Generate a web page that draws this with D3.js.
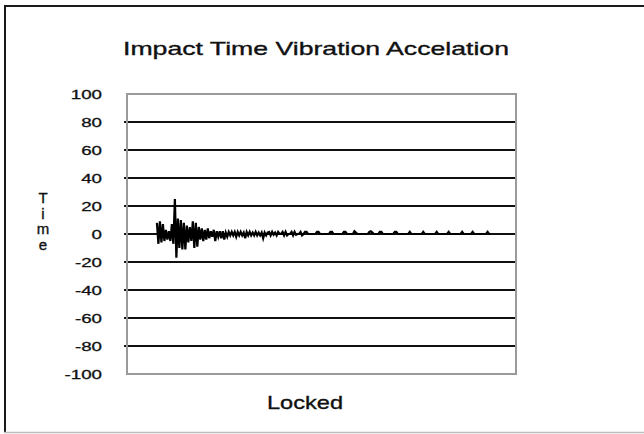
<!DOCTYPE html>
<html>
<head>
<meta charset="utf-8">
<script src="https://cdn.jsdelivr.net/npm/d3@7"></script>
<style>
  body { margin: 0; background: #fff; }
  text { font-family: "Liberation Sans", Arial, sans-serif; fill: #111; }
</style>
</head>
<body>
<div id="chart"></div>
<script>
// chart texts
var title = "Impact Time Vibration Accelation";
var xTitle = "Locked";
var yTitle = ["T", "i", "m", "e"];
var yTicks = [100, 80, 60, 40, 20, 0, -20, -40, -60, -80, -100];
var yTickLabels = ["100", "80", "60", "40", "20", "0", "-20", "-40", "-60", "-80", "-100"];

// sample number of the first reading, and length of the time axis (samples)
var firstSample = 20;
var sampleCount = 260;

// acceleration readings, one per sample
var accel = [
  8, -7, 9, -6, 7, -5, 3, -4, 2, -5,
  7, -7, 25, -17, 11, -10, 10, -11, 8, -11,
  6, -6, 5, -5, 9, -10, 8, -9, 5, -4,
  4, -5, 3, -4, 4, -3, 2, -2, 3, -5,
  2, -2, 2, -3, 2, -4, 1, -2,
  1.5, -1, 1.5, -1, 1.5, -2, 1.5, -1, 1.5, -1,
  1, -3, 1.5, -1, 1.5, -1, 1, -1, 1.5, -1,
  1, -1, 1, -3, 1, -1, 1,
  1.5, -1, 1.5, -0.5, 1, -1, 1.5, 0, 0, 1.5,
  -1, 1.5, -1, 0, 0, 1.5, -1, 1.5, -0.5, 0,
  0, 1.5,
  -1, 0, 1.5, 1.5, 0, 0, 0, 0, 0, 0,
  1.5, 1.5, 0, 0, 0, 0, 0, 0, 0, 1.5,
  1.5, 0, 0, 0, 0, 0, 0, 0, 1.5, 1.5,
  0, 0, 0, 0, 0, 2, 1, 0, 0, 0,
  0, 0, 0, 0, 0, 1.5, 2, 1, 0, 0,
  0, 0, 1.5, 1.5, 0, 0, 0, 0, 0, 0,
  0, 0, 1.5, 1.5, 0, 0, 0, 0, 0, 0,
  0, 0, 1.5, 0, 0, 0, 0, 0, 0, 0,
  0, 1.5, 0, 0, 0, 0, 0, 0, 0, 0,
  1.5, 0, 0, 0, 0, 0, 0, 0, 1.5, 0,
  0, 0, 0, 0, 0, 0, 0, 1.5, 0, 0,
  0, 0, 0, 0, 1.5, 0, 0, 0, 0, 0,
  0, 0, 0, 0, 1.5, 0, 0
];

var W = 644, H = 434;
var plot = {left: 127, right: 516, top: 94, bottom: 374};

var svg = d3.select("#chart")
  .append("svg")
    .attr("width", W)
    .attr("height", H);

svg.append("rect")
  .attr("width", W).attr("height", H)
  .attr("fill", "#fff");

// outer frame (no right edge, it runs off the picture)
svg.append("line")
  .attr("x1", 4).attr("x2", W).attr("y1", 6).attr("y2", 6)
  .attr("stroke", "#1a1a1a").attr("stroke-width", 2);
svg.append("line")
  .attr("x1", 5).attr("x2", 5).attr("y1", 5).attr("y2", 433)
  .attr("stroke", "#1a1a1a").attr("stroke-width", 2);
svg.append("line")
  .attr("x1", 4).attr("x2", W).attr("y1", 432.5).attr("y2", 432.5)
  .attr("stroke", "#bdbdbd").attr("stroke-width", 1.5);

var x = d3.scaleLinear()
  .domain([0, sampleCount])
  .range([plot.left, plot.right]);

var y = d3.scaleLinear()
  .domain([-100, 100])
  .range([plot.bottom, plot.top]);

// gridlines
svg.append("g")
  .selectAll("line")
  .data(yTicks.filter(function (d) { return Math.abs(d) < 100; }))
  .enter()
  .append("line")
    .attr("x1", plot.left - 3)
    .attr("x2", plot.right)
    .attr("y1", function (d) { return y(d); })
    .attr("y2", function (d) { return y(d); })
    .attr("stroke", "#111")
    .attr("stroke-width", 1.8);

// plot border
svg.append("rect")
  .attr("x", plot.left)
  .attr("y", plot.top)
  .attr("width", plot.right - plot.left)
  .attr("height", plot.bottom - plot.top)
  .attr("fill", "none")
  .attr("stroke", "#9a9a9a")
  .attr("stroke-width", 2);

// tick labels (wide digits, so stretched horizontally)
svg.append("g")
  .selectAll("text")
  .data(yTicks)
  .enter()
  .append("text")
    .attr("transform", function (d) { return "translate(102," + (y(d) + 4.5) + ") scale(1.5,1)"; })
    .attr("text-anchor", "end")
    .style("font-size", "12.5px")
    .style("stroke", "#111")
    .style("stroke-width", 0.3)
    .text(function (d, i) { return yTickLabels[i]; });

// the signal
var line = d3.line()
  .x(function (d, i) { return x(firstSample + i); })
  .y(function (d) { return y(d); });

svg.append("path")
  .datum(accel)
  .attr("d", line)
  .attr("fill", "none")
  .attr("stroke", "#000")
  .attr("stroke-width", 2.2)
  .attr("stroke-linejoin", "miter");

// title
svg.append("text")
  .attr("x", 123)
  .attr("y", 55)
  .attr("textLength", 386)
  .attr("lengthAdjust", "spacingAndGlyphs")
  .style("font-size", "19px")
  .style("stroke", "#111")
  .style("stroke-width", 0.35)
  .text(title);

// x title
svg.append("text")
  .attr("x", 267)
  .attr("y", 409)
  .attr("textLength", 76)
  .attr("lengthAdjust", "spacingAndGlyphs")
  .style("font-size", "19px")
  .style("stroke", "#111")
  .style("stroke-width", 0.35)
  .text(xTitle);

// y title, one letter per row
svg.append("g")
  .selectAll("text")
  .data(yTitle)
  .enter()
  .append("text")
    .attr("x", 43)
    .attr("y", function (d, i) { return 203 + i * 15.7; })
    .attr("text-anchor", "middle")
    .style("font-size", "15px")
    .style("stroke", "#111")
    .style("stroke-width", 0.35)
    .text(function (d) { return d; });
</script>
</body>
</html>
